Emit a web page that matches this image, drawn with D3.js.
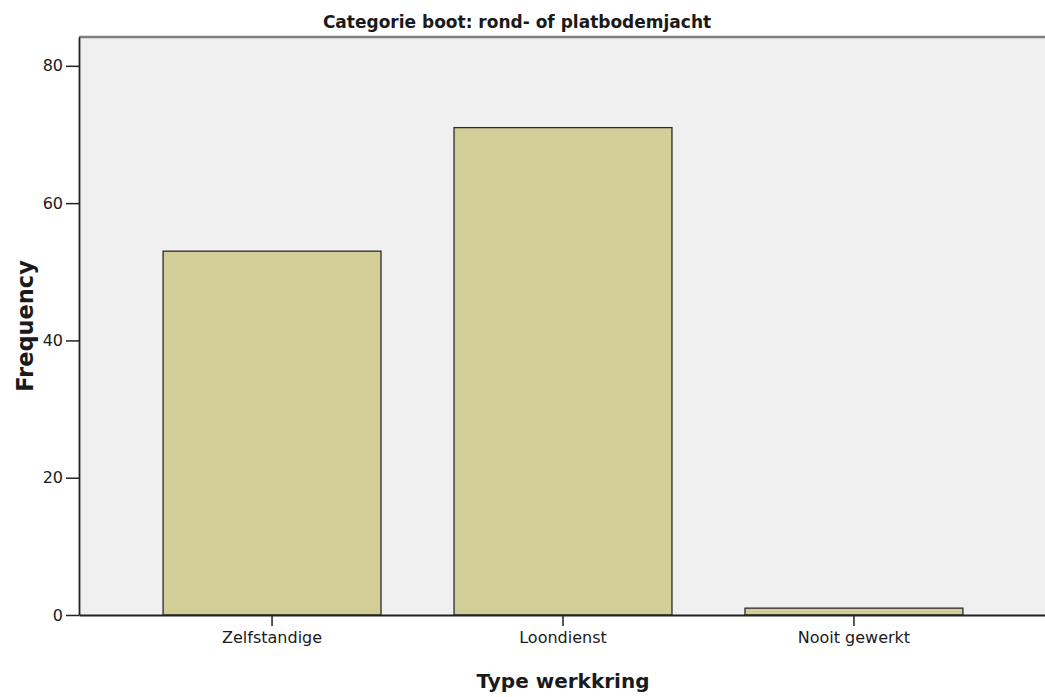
<!DOCTYPE html>
<html>
<head>
<meta charset="utf-8">
<script src="https://cdn.jsdelivr.net/npm/d3@7"></script>
<style>
  body { margin: 0; background: #fff; }
  text { font-family: "DejaVu Sans", Verdana, sans-serif; fill: #1a1a1a; }
</style>
</head>
<body>
<div id="chart"></div>
<script>
const categories = ["Zelfstandige", "Loondienst", "Nooit gewerkt"];
const frequencies = [53, 71, 1];
const yTicks = [0, 20, 40, 60, 80];
const chartTitle = "Categorie boot: rond- of platbodemjacht";
const xTitle = "Type werkkring";
const yTitle = "Frequency";

const W = 1045, H = 697;
const margin = { top: 37, right: -2, bottom: 82, left: 79 };
const width = W - margin.left - margin.right;
const height = H - margin.top - margin.bottom;

const svg = d3.select("#chart").append("svg")
  .attr("width", W)
  .attr("height", H);

const g = svg.append("g")
  .attr("transform", "translate(" + margin.left + "," + margin.top + ")");

const x = d3.scaleBand()
  .domain(categories)
  .range([0, width])
  .paddingInner(0.251)
  .paddingOuter(0.289);

const y = d3.scaleLinear()
  .domain([0, 84.2])
  .range([height, 0]);

// plot background
g.append("rect")
  .attr("width", width)
  .attr("height", height)
  .attr("fill", "#f0f0f0");

// bars
g.selectAll(".bar")
  .data(frequencies)
  .join("rect")
  .attr("class", "bar")
  .attr("x", (d, i) => x(categories[i]))
  .attr("y", d => y(d))
  .attr("width", x.bandwidth())
  .attr("height", d => y(0) - y(d))
  .attr("fill", "#d3cd98")
  .attr("stroke", "#2b2b2b")
  .attr("stroke-width", 1.3);

// top frame line
g.append("line")
  .attr("x1", 0).attr("x2", width)
  .attr("y1", 0).attr("y2", 0)
  .attr("stroke", "#7f7f7f")
  .attr("stroke-width", 2.5);

// y axis
const yAxis = g.append("g")
  .call(d3.axisLeft(y).tickValues(yTicks).tickSize(13).tickSizeOuter(0).tickPadding(3));
yAxis.select(".domain").attr("stroke", "#222").attr("stroke-width", 1.8);
yAxis.selectAll(".tick line").attr("stroke", "#222").attr("stroke-width", 1.5);
yAxis.selectAll(".tick text")
  .attr("font-size", 16)
  .attr("font-family", "DejaVu Sans")
  .attr("fill", "#1a1a1a");

// x axis
const xAxis = g.append("g")
  .attr("transform", "translate(0," + height + ")")
  .call(d3.axisBottom(x).tickSize(11).tickSizeOuter(0).tickPadding(6));
xAxis.select(".domain").attr("stroke", "#222").attr("stroke-width", 1.8);
xAxis.selectAll(".tick line").attr("stroke", "#222").attr("stroke-width", 1.5);
xAxis.selectAll(".tick text")
  .attr("font-size", 16)
  .attr("font-family", "DejaVu Sans")
  .attr("fill", "#1a1a1a");

// chart title
svg.append("text")
  .attr("x", 517)
  .attr("y", 28)
  .attr("text-anchor", "middle")
  .attr("font-size", 17)
  .attr("font-weight", "bold")
  .text(chartTitle);

// x axis title
svg.append("text")
  .attr("x", margin.left + width / 2)
  .attr("y", 688)
  .attr("text-anchor", "middle")
  .attr("font-size", 20)
  .attr("font-weight", "bold")
  .text(xTitle);

// y axis title
svg.append("text")
  .attr("transform", "rotate(-90)")
  .attr("x", -(margin.top + height / 2))
  .attr("y", 33)
  .attr("text-anchor", "middle")
  .attr("font-size", 22.5)
  .attr("font-weight", "bold")
  .text(yTitle);
</script>
</body>
</html>
